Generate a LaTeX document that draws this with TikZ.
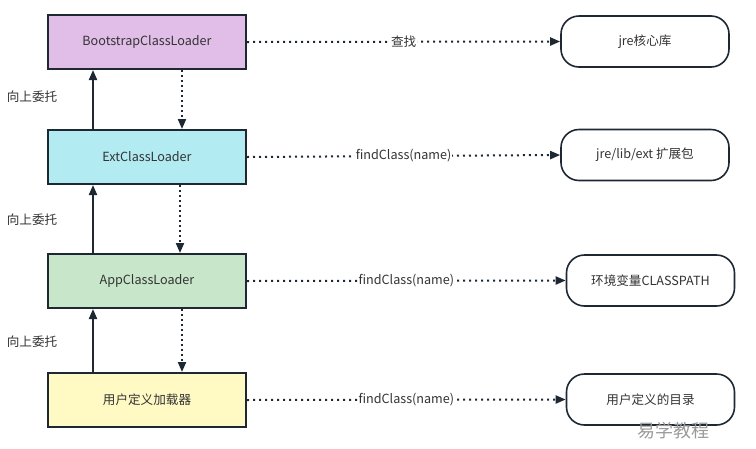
\documentclass[tikz,border=0pt]{standalone}
\usepackage{fontspec}
\setmainfont{Noto Sans CJK SC}
\usetikzlibrary{arrows.meta}
\definecolor{edge}{HTML}{1E2833}
\definecolor{txt}{HTML}{333333}
\definecolor{bootfill}{HTML}{E1BEE7}
\definecolor{extfill}{HTML}{B2EBF2}
\definecolor{appfill}{HTML}{C8E6C9}
\definecolor{userfill}{HTML}{FFF9C4}
\begin{document}
\begin{tikzpicture}
    [x=1pt,y=-1pt,font=\fontsize{12.6}{15}\selectfont,text=txt,
    loader/.style={rectangle,draw=edge,line width=2pt,
      minimum width=198pt,minimum height=54pt,inner sep=0pt},
    source/.style={rectangle,rounded corners=18pt,draw=edge,line width=1.6pt,
      fill=white,minimum width=168pt,minimum height=51pt,inner sep=0pt},
    up/.style={draw=edge,line width=2pt,-{Triangle[length=10pt,width=8pt]}},
    down/.style={draw=edge,line width=2pt,dash pattern=on 2pt off 3pt,
      -{Triangle[length=10pt,width=8pt]}},
    find/.style={draw=edge,line width=2pt,dash pattern=on 2pt off 4pt,
      -{Triangle[length=10pt,width=8pt]}},
    lbl/.style={fill=white,inner sep=1pt}]

    \useasboundingbox (0,0) rectangle (756,448);

    \node[loader,fill=bootfill] (boot) at (147,42)  {BootstrapClassLoader};
    \node[loader,fill=extfill]  (ext)  at (147,157) {ExtClassLoader};
    \node[loader,fill=appfill]  (app)  at (147,281) {AppClassLoader};
    \node[loader,fill=userfill] (user) at (147,400) {用户定义加载器};

    \node[source] (core)      at (645,41.5)  {jre核心库};
    \node[source] (extlib)    at (645,155)   {jre/lib/ext 扩展包};
    \node[source] (classpath) at (650.5,280.5) {环境变量CLASSPATH};
    \node[source] (userdir)   at (650.5,399.5) {用户定义的目录};

    % delegate upwards
    \draw[up] ([xshift=-54pt]ext.north)  -- ([xshift=-54pt]boot.south);
    \draw[up] ([xshift=-54pt]app.north)  -- ([xshift=-54pt]ext.south);
    \draw[up] ([xshift=-54pt]user.north) -- ([xshift=-54pt]app.south);

    \node (up 1) at (32,97)  {向上委托};
    \node (up 2) at (32,220) {向上委托};
    \node (up 3) at (32,342) {向上委托};

    % hand back downwards
    \draw[down] ([xshift=35pt]boot.south) -- ([xshift=35pt]ext.north);
    \draw[down] ([xshift=33pt]ext.south)  -- ([xshift=33pt]app.north);
    \draw[down] ([xshift=35pt]app.south)  -- ([xshift=35pt]user.north);

    % lookup
    \draw[find] (boot.east) -- node[lbl] {查找} (core.west);
    \draw[find] (ext.east)  -- node[lbl] {findClass(name)} (extlib.west);
    \draw[find] (app.east)  -- node[lbl] {findClass(name)} (classpath.west);
    \draw[find] (user.east) -- node[lbl] {findClass(name)} (userdir.west);

    \node[text=black!40,font=\fontsize{18}{20}\selectfont] (mark) at (673,431) {易学教程};

  \end{tikzpicture}
\end{document}
